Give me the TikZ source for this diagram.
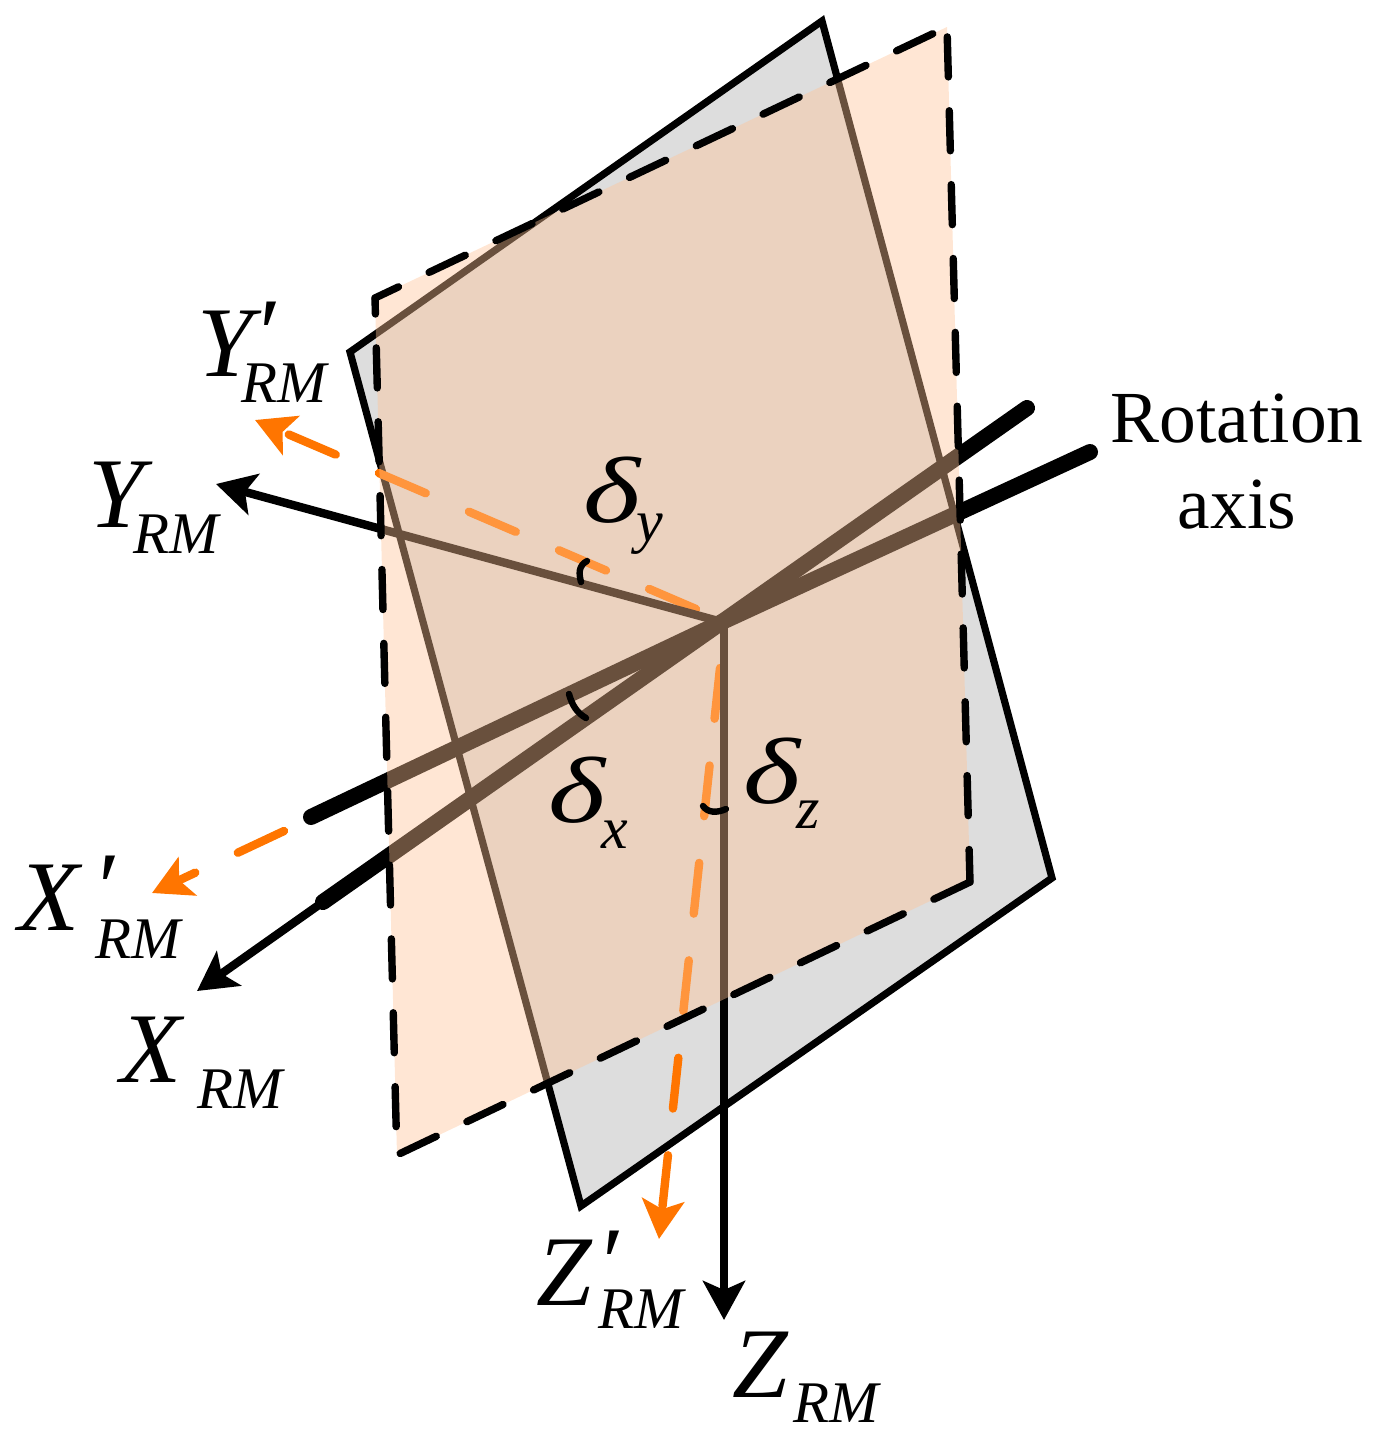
\documentclass[tikz,border=0pt]{standalone}
\usepackage{fontspec}
\setmainfont{Liberation Serif}
\usetikzlibrary{arrows.meta}
\definecolor{planegray}{RGB}{221,221,221}
\definecolor{sheet}{RGB}{255,195,150}
\definecolor{orangeline}{RGB}{255,117,0}
\tikzset{
  edgeline/.style={line width=3.6pt,line join=miter,black},
  sheetdash/.style={line width=3.7pt,line cap=round,black,dash pattern=on 20pt off 16.95pt},
  blackaxis/.style={line width=4.2pt,black},
  pivotaxis/.style={line width=8pt,black,line cap=round},
  orangeaxis/.style={line width=4.2pt,orangeline,line cap=round,dash pattern=on 25.5pt off 23.5pt},
  bigtip/.style={-{Stealth[length=19.5pt,width=21pt,inset=4.5pt]}},
  angletick/.style={line width=3.2pt,line cap=round,black},
  axislabel/.style={inner sep=0pt,font=\itshape\fontsize{50}{50}\selectfont},
  anglelabel/.style={inner sep=0pt,font=\itshape\fontsize{51}{51}\selectfont},
}
\newcommand{\labelnoprime}[4]{\makebox[0pt][l]{#1}\hspace*{#2}\raisebox{#3}{\fontsize{29.5}{29.5}\selectfont #4}}
\newcommand{\labelprime}[5]{\makebox[0pt][l]{#1}\makebox[0pt][l]{\hspace*{#2}\raisebox{4.5pt}{′}}\hspace*{#3}\raisebox{#4}{\fontsize{29.5}{29.5}\selectfont #5}}
\newcommand{\deltasub}[2]{\scalebox{1.2}[0.92]{δ}\hspace*{-2pt}\raisebox{#1}{\fontsize{30}{30}\selectfont #2}}
\begin{document}
\begin{tikzpicture}[x=0.5pt,y=-0.5pt]
\useasboundingbox (0,0) rectangle (1379,1452);
\coordinate (O) at (722,622);
\coordinate (Oz) at (724,622);
\coordinate (ga) at (822,21);
\coordinate (gb) at (1052,878);
\coordinate (gc) at (581,1206);
\coordinate (gd) at (350,352);
\coordinate (sa) at (947,27);
\coordinate (sb) at (970,882);
\coordinate (sc) at (397,1155);
\coordinate (sd) at (375,298);
\coordinate (leftend) at (396.5,1140);
% grey plane
\fill[planegray] (ga)--(gb)--(gc)--(gd)--cycle;
\draw[edgeline] (ga)--(gb)--(gc)--(gd)--cycle;
% orange axes below the sheet
\draw[orangeaxis,bigtip] (696,609) -- (255,420);
\draw[orangeaxis,bigtip] (284,831) -- (152,893);
\draw[orangeaxis,bigtip] (720,668) -- (659,1239);
% black axes
\draw[blackaxis,bigtip] (O) -- (216,484);
\draw[blackaxis,bigtip] (Oz) -- (724,1320);
\draw[blackaxis,bigtip] (323,902) -- (197,991);
\draw[pivotaxis] (1027,408) -- (O) -- (323,902);
\draw[pivotaxis] (1090,452) -- (O) -- (311,817);
% translucent sheet
\fill[sheet,fill opacity=0.41] (sa)--(sb)--(sc)--(sd)--cycle;
\draw[sheetdash,dash phase=32pt] (sa)--(sb);
\draw[sheetdash] (sb)--(sc);
\draw[sheetdash,dash phase=7pt] (sd)--(sa);
\draw[sheetdash,dash phase=12pt] (sd)--(leftend);
% angle ticks
\draw[angletick] (587,561) .. controls (578,566) and (579,574) .. (581,582);
\draw[angletick] (569,694) .. controls (572,705) and (577,713) .. (586,718);
\draw[angletick] (703,806) .. controls (708,813) and (717,813) .. (726,809);
% labels
\node[axislabel,anchor=base west] (ylp) at (197,376) {\labelprime{Y}{28pt}{22pt}{-13pt}{RM}};
\node[axislabel,anchor=base west] (yl) at (88,527) {\labelnoprime{Y}{22.5pt}{-13pt}{RM}};
\node[axislabel,anchor=base west] (xlp) at (18,930) {\labelprime{X}{37pt}{38.5pt}{-14pt}{RM}};
\node[axislabel,anchor=base west] (xl) at (120,1082) {\labelnoprime{X}{38.5pt}{-13pt}{RM}};
\node[axislabel,anchor=base west] (zlp) at (536,1305) {\labelprime{Z}{30pt}{31pt}{-11.5pt}{RM}};
\node[axislabel,anchor=base west] (zl) at (732,1397) {\labelnoprime{Z}{30.5pt}{-12.5pt}{RM}};
\node[anglelabel,anchor=base west] (dy) at (583,522) {\deltasub{-9.5pt}{y}};
\node[anglelabel,anchor=base west] (dx) at (548,822) {\deltasub{-13pt}{x}};
\node[anglelabel,anchor=base west] (dz) at (743,803) {\deltasub{-12.5pt}{z}};
\node[inner sep=0pt,anchor=center,align=center,font=\fontsize{36.7}{43}\selectfont] (rot) at (1237,462) {Rotation\\axis};
\end{tikzpicture}
\end{document}
